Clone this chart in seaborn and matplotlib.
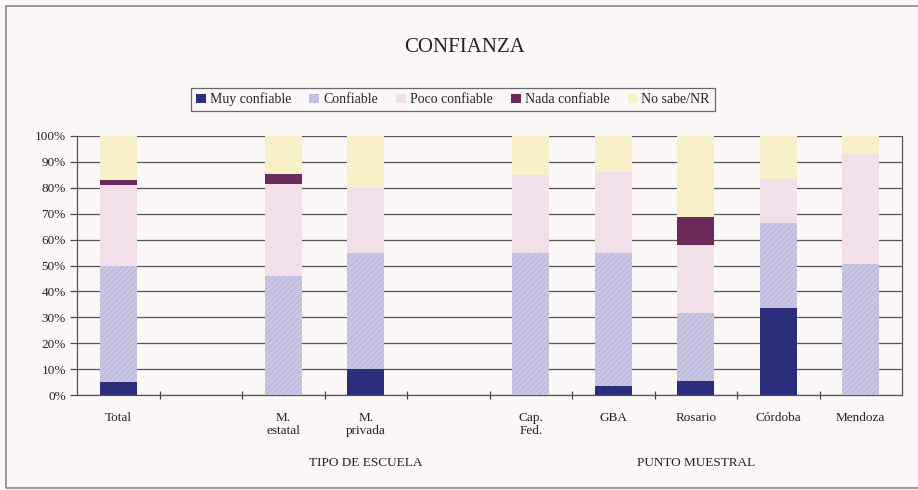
import matplotlib
matplotlib.use("Agg")
import matplotlib.pyplot as plt
import pandas as pd
import seaborn as sns
from matplotlib.patches import Rectangle
from matplotlib.ticker import FixedLocator, MultipleLocator, PercentFormatter
from matplotlib.transforms import blended_transform_factory

# slots on the x axis (two empty slots separate the groups)
slots = ["Total", "gap1", "M. estatal", "M. privada", "gap2",
         "Cap. Fed.", "GBA", "Rosario", "Córdoba", "Mendoza"]
slot_labels = ["Total", "", "M.\nestatal", "M.\nprivada", "",
               "Cap.\nFed.", "GBA", "Rosario", "Córdoba", "Mendoza"]
categories = ["Total", "M. estatal", "M. privada", "Cap. Fed.",
              "GBA", "Rosario", "Córdoba", "Mendoza"]

series_names = ["Muy confiable", "Confiable", "Poco confiable",
                "Nada confiable", "No sabe/NR"]
muy_confiable = [5, 0, 10, 0, 3.5, 5.4, 33.6, 0]
confiable = [45, 46, 45, 55, 51.5, 26.3, 33, 50.5]
poco_confiable = [31, 35.5, 25, 30, 31, 26.3, 16.8, 42.7]
nada_confiable = [2, 3.7, 0, 0, 0, 10.6, 0, 0]
no_sabe = [17, 14.8, 20, 15, 14, 31.4, 16.6, 6.8]

colors = ["#2b2e7c", "#c9c6e4", "#f2dfe9", "#6c2a5c", "#f8f1c8"]

group_labels = ["TIPO DE ESCUELA", "PUNTO MUESTRAL"]
group_centers = ["M. privada", "Rosario"]

df = pd.DataFrame({"categoria": categories})
values = [muy_confiable, confiable, poco_confiable, nada_confiable, no_sabe]
running = [0.0] * len(categories)
for name, vals in zip(series_names, values):
    running = [r + v for r, v in zip(running, vals)]
    df[name] = running

sns.set_theme(style="white")
plt.rcParams["font.family"] = ["Liberation Serif", "DejaVu Serif"]
plt.rcParams["hatch.linewidth"] = 0.5
bg = "#fcf8f8"

fig = plt.figure(figsize=(9.18, 4.90), dpi=100, facecolor=bg)
ax = fig.add_axes([77 / 918, 95 / 490, 825 / 918, 259 / 490])
ax.set_facecolor(bg)

handles = {}
# draw from the top of the stack down so lower layers overlap
for i in reversed(range(len(series_names))):
    name = series_names[i]
    sns.barplot(data=df, x="categoria", y=name, order=slots,
                color=colors[i], saturation=1, width=0.45, ax=ax,
                zorder=3)
    bars = ax.containers[-1]
    for p in bars:
        p.set_linewidth(0)
        if name == "Confiable":
            p.set_hatch("//////")
            p.set_edgecolor("#b3afd8")
    handles[name] = bars[0]

ax.set_ylim(0, 100)
ax.set_xlim(-0.5, len(slots) - 0.5)
ax.yaxis.set_major_locator(MultipleLocator(10))
ax.yaxis.set_major_formatter(PercentFormatter(decimals=0))
ax.grid(axis="y", color="#555555", linewidth=0.9)
ax.set_axisbelow(True)

ax.set_xticks(range(len(slots)))
ax.set_xticklabels(slot_labels, fontsize=9.5, color="#222222", va="top")
ax.xaxis.set_minor_locator(FixedLocator([x + 0.5 for x in range(len(slots) - 1)]))
ax.tick_params(axis="x", which="major", length=0, pad=12)
ax.tick_params(axis="x", which="minor", length=6, direction="inout",
               color="#444444", width=0.9, bottom=True)
ax.tick_params(axis="y", length=5, direction="out", color="#444444",
               width=0.9, left=True, labelsize=9.5, labelcolor="#222222", pad=3)
ax.set_xlabel("")
ax.set_ylabel("")

for s in ["left", "bottom", "right"]:
    ax.spines[s].set_color("#555555")
    ax.spines[s].set_linewidth(0.9)
ax.spines["top"].set_visible(False)

trans = blended_transform_factory(ax.transData, fig.transFigure)
for label, center in zip(group_labels, group_centers):
    ax.text(slots.index(center), 1 - 463 / 490, label, transform=trans,
            ha="center", va="center", fontsize=9.5, color="#222222")

fig.text(465 / 918, 1 - 47 / 490, "CONFIANZA", ha="center", va="center",
         fontsize=15, color="#222222")

leg = fig.legend([handles[n] for n in series_names], series_names,
                 loc="center", bbox_to_anchor=(453 / 918, 1 - 99.5 / 490),
                 ncol=5, fontsize=10, frameon=True, fancybox=False,
                 handlelength=0.7, handleheight=0.7, handletextpad=0.3,
                 columnspacing=1.3, borderpad=0.35)
leg.get_frame().set_edgecolor("#444444")
leg.get_frame().set_linewidth(0.9)
leg.get_frame().set_facecolor(bg)

fig.patches.append(Rectangle((6 / 918, 2 / 490), 1.0, 482 / 490,
                             transform=fig.transFigure, fill=False,
                             edgecolor="#888888", linewidth=1.2))

fig.savefig("out.png", dpi=100, facecolor=bg)
